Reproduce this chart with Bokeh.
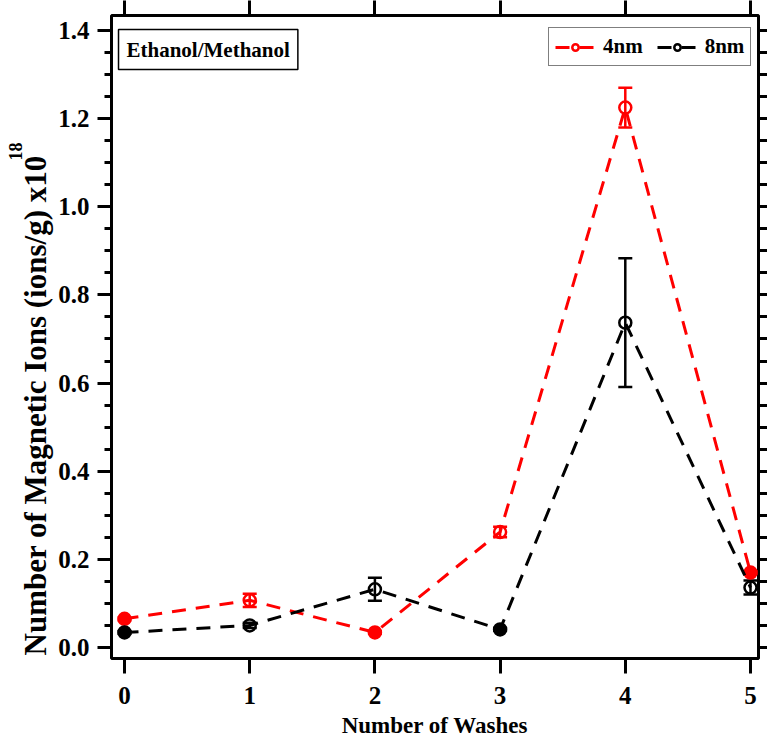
from bokeh.embed import file_html
from bokeh.models import (ColumnDataSource, FixedTicker, Label, Legend,
                          LegendItem, LinearAxis, Range1d, TeeHead, Title,
                          Whisker)
from bokeh.plotting import figure
from bokeh.resources import INLINE

# Number of washes and measured magnetic ion content (x1e18 ions/g)
washes = [0, 1, 2, 3, 4, 5]
ions_4nm = [0.065, 0.107, 0.034, 0.262, 1.225, 0.170]
err_4nm = [0.003, 0.015, 0.003, 0.012, 0.045, 0.003]
ions_8nm = [0.034, 0.050, 0.132, 0.041, 0.737, 0.136]
err_8nm = [0.003, 0.006, 0.026, 0.003, 0.146, 0.016]

x_ticks = [0, 1, 2, 3, 4, 5]
x_tick_labels = ["0", "1", "2", "3", "4", "5"]
y_ticks = [0.0, 0.2, 0.4, 0.6, 0.8, 1.0, 1.2, 1.4]
y_tick_labels = ["0.0", "0.2", "0.4", "0.6", "0.8", "1.0", "1.2", "1.4"]
y_minor = [round(0.05 * i, 2) for i in range(0, 29)]

FONT = "Liberation Serif"


def series_source(x, y, err):
    # markers whose error bar is smaller than the marker get a solid fill
    fill = [1.0 if e < 0.005 else 0.0 for e in err]
    return ColumnDataSource(dict(
        x=x, y=y,
        lower=[v - e for v, e in zip(y, err)],
        upper=[v + e for v, e in zip(y, err)],
        fill=fill,
    ))


src4 = series_source(washes, ions_4nm, err_4nm)
src8 = series_source(washes, ions_8nm, err_8nm)

p = figure(width=767, height=740, output_backend="svg", toolbar_location=None,
           x_range=Range1d(-0.104, 5.064), y_range=Range1d(-0.025, 1.434),
           min_border_left=111, min_border_right=9, min_border_top=15,
           min_border_bottom=82)
p.grid.visible = False
p.outline_line_color = "black"
p.outline_line_width = 3
p.background_fill_color = "white"
p.border_fill_color = "white"


def style_axis(ax, tick_out, minor_out, show_labels):
    ax.axis_line_color = None
    ax.major_tick_in = 0
    ax.minor_tick_in = 0
    ax.major_tick_out = tick_out
    ax.minor_tick_out = minor_out
    ax.major_tick_line_width = 3
    ax.minor_tick_line_width = 3
    ax.major_tick_line_color = "black"
    ax.minor_tick_line_color = "black"
    ax.major_label_text_font = FONT
    ax.major_label_text_font_style = "bold"
    if show_labels:
        ax.major_label_text_color = "black"
        ax.major_label_text_font_size = "25px"
    else:
        ax.major_label_text_color = None
        ax.major_label_text_font_size = "1px"
        ax.major_label_standoff = 0


# bottom axis
xax = p.xaxis[0]
xax.ticker = FixedTicker(ticks=x_ticks)
xax.major_label_overrides = dict(zip(x_ticks, x_tick_labels))
style_axis(xax, 15, 0, True)
xax.major_label_standoff = 13
xax.axis_label = "Number of Washes"
xax.axis_label_text_color = "black"
xax.axis_label_text_font = FONT
xax.axis_label_text_font_style = "bold"
xax.axis_label_text_font_size = "23px"
xax.axis_label_standoff = 6

# left axis
yax = p.yaxis[0]
yax.ticker = FixedTicker(ticks=y_ticks, minor_ticks=y_minor)
yax.major_label_overrides = dict(zip(y_ticks, y_tick_labels))
style_axis(yax, 14, 7, True)
yax.major_label_standoff = 8

# mirrored top and right axes (ticks only)
top = LinearAxis(ticker=FixedTicker(ticks=x_ticks))
style_axis(top, 15, 0, False)
p.add_layout(top, "above")
right = LinearAxis(ticker=FixedTicker(ticks=y_ticks, minor_ticks=y_minor))
style_axis(right, 9, 9, False)
p.add_layout(right, "right")

# y axis title; the exponent sits in its own panel just outside, raised
p.add_layout(Title(text="Number of Magnetic Ions (ions/g) x10", align="left",
                   offset=3, standoff=5, text_font=FONT, text_font_style="bold",
                   text_font_size="31px", text_color="black"), "left")
p.add_layout(Title(text="18", align="left", offset=498, standoff=-16,
                   text_font=FONT, text_font_style="bold",
                   text_font_size="18px", text_color="black"), "left")

# series
items = []
for src, color, name in ((src4, "red", "4nm"), (src8, "black", "8nm")):
    ln = p.line("x", "y", source=src, line_color=color, line_width=3,
                line_dash="14 10")
    p.add_layout(Whisker(base="x", lower="lower", upper="upper", source=src,
                         line_color=color, line_width=2.5,
                         upper_head=TeeHead(size=14, line_color=color, line_width=2.5),
                         lower_head=TeeHead(size=14, line_color=color, line_width=2.5)))
    sc = p.scatter("x", "y", source=src, marker="circle", size=12,
                   line_color=color, line_width=2.5, fill_color=color,
                   fill_alpha="fill")
    items.append(LegendItem(label=name, renderers=[ln, sc], index=1))

leg = Legend(items=items, orientation="horizontal", location=(437, 592),
             border_line_color="black", border_line_width=1.5,
             background_fill_color="white", background_fill_alpha=1.0,
             label_text_font=FONT, label_text_font_style="bold",
             label_text_font_size="21px", label_text_color="black",
             glyph_width=40, glyph_height=16, label_standoff=8, label_height=20,
             spacing=14, padding=6, margin=0)
p.add_layout(leg)

p.add_layout(Label(x=-0.048, y=1.402, text="Ethanol/Methanol",
                   text_align="left", text_baseline="top",
                   text_font=FONT, text_font_style="bold", text_font_size="21px",
                   text_color="black", border_line_color="black",
                   border_line_width=1.5, background_fill_color="white",
                   padding=8))

open("out.html", "w").write(file_html(p, INLINE))
